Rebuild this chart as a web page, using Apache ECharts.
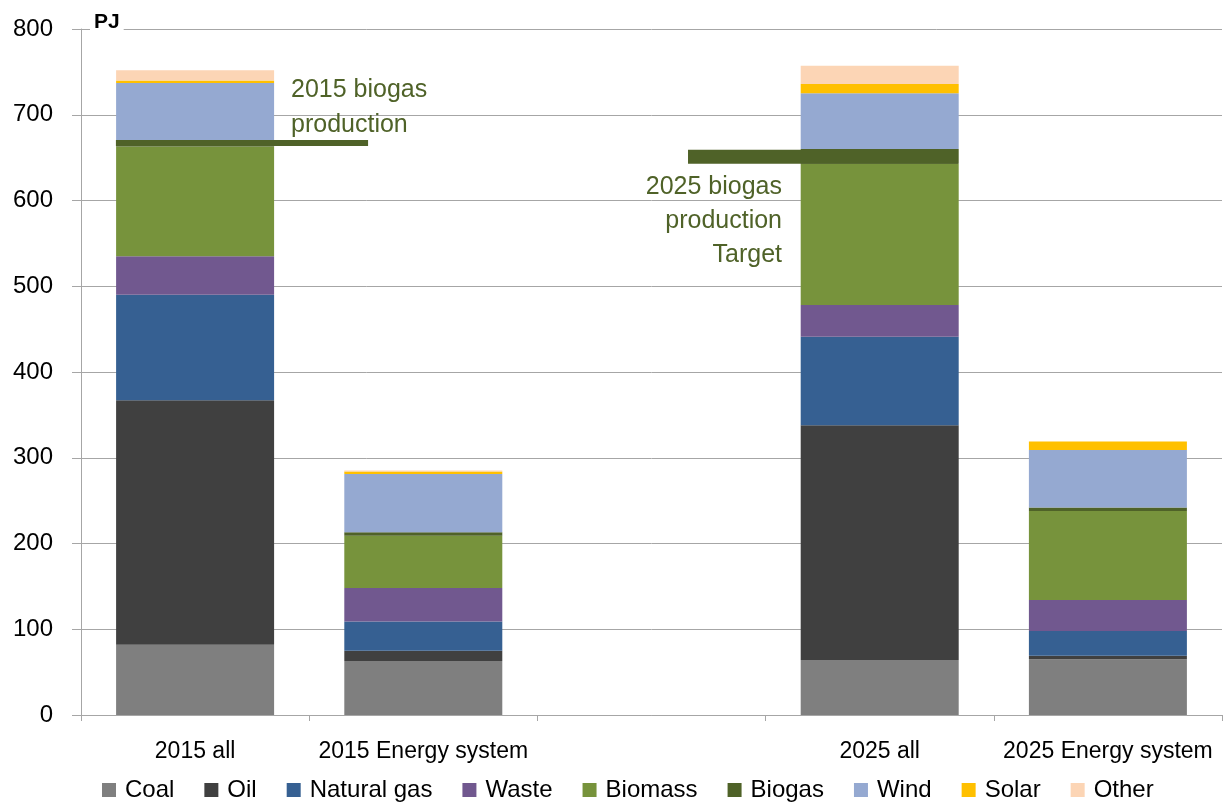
<!DOCTYPE html>
<html>
<head>
<meta charset="utf-8">
<script src="https://cdn.jsdelivr.net/npm/echarts@6/dist/echarts.min.js"></script>
<style>
  html, body { margin: 0; padding: 0; background: #fff; }
  #main { width: 1229px; height: 808px; }
</style>
</head>
<body>
<div id="main"></div>
<script>
// categories (third slot is an empty gap)
var categories = ['2015 all', '2015 Energy system', '', '2025 all', '2025 Energy system'];

// PJ per source
var coal       = [82, 63, '-', 64, 65];
var oil        = [285, 12, '-', 274, 4];
var naturalGas = [123, 34, '-', 103, 29];
var waste      = [45, 39, '-', 37, 36];
var biomass    = [128, 61, '-', 165, 104];
var biogas     = [5, 4, '-', 17, 4];
var wind       = [69, 68, '-', 65, 67];
var solar      = [3, 3, '-', 11, 10];
var other      = [12, 1, '-', 21, 0];

var yTicks = [0, 100, 200, 300, 400, 500, 600, 700, 800];

// biogas production markers: [start, end] in category units, level in PJ
var biogas2015Span = [0.153, 1.258];
var biogas2015Level = 667;
var biogas2025Span = [2.66, 3.843];
var biogas2025Level = 651;

var FONT = '"Liberation Sans", Arial, sans-serif';
var GREEN = '#4f6228';

var sources = [
  { name: 'Coal', data: coal, color: '#7f7f7f' },
  { name: 'Oil', data: oil, color: '#404040' },
  { name: 'Natural gas', data: naturalGas, color: '#366092' },
  { name: 'Waste', data: waste, color: '#71588f' },
  { name: 'Biomass', data: biomass, color: '#77933c' },
  { name: 'Biogas', data: biogas, color: GREEN },
  { name: 'Wind', data: wind, color: '#95a9d1' },
  { name: 'Solar', data: solar, color: '#ffc000' },
  { name: 'Other', data: other, color: '#fcd5b5' }
];

var series = sources.map(function (s) {
  return {
    name: s.name,
    type: 'bar',
    stack: 'total',
    barWidth: 158,
    data: s.data,
    itemStyle: { color: s.color },
    emphasis: { disabled: true }
  };
});

function markerLine(span, level, width) {
  return {
    type: 'line',
    xAxisIndex: 1,
    symbol: 'none',
    silent: true,
    z: 5,
    lineStyle: { color: GREEN, width: width, cap: 'butt' },
    data: [[span[0], level], [span[1], level]]
  };
}
series.push(markerLine(biogas2015Span, biogas2015Level, 6));
series.push(markerLine(biogas2025Span, biogas2025Level, 14));

var chart = echarts.init(document.getElementById('main'), null, { renderer: 'canvas' });

chart.setOption({
  animation: false,
  textStyle: { fontFamily: FONT },
  grid: { left: 81, right: 7, top: 29, bottom: 93 },
  legend: {
    data: sources.map(function (s) { return s.name; }),
    bottom: 1,
    left: 97,
    itemWidth: 14,
    itemHeight: 14,
    itemGap: 30,
    icon: 'rect',
    textStyle: { fontFamily: FONT, fontSize: 24, color: '#000', padding: [0, 0, 0, 4] }
  },
  xAxis: [
    {
      type: 'category',
      data: categories,
      axisLine: { lineStyle: { color: '#a6a6a6', width: 1 } },
      axisTick: { show: true, length: 6, lineStyle: { color: '#a6a6a6' } },
      axisLabel: { fontSize: 23, color: '#000', margin: 25, fontFamily: FONT, interval: 0 }
    },
    {
      type: 'value',
      min: 0,
      max: 5,
      show: false
    }
  ],
  yAxis: {
    type: 'value',
    min: yTicks[0],
    max: yTicks[yTicks.length - 1],
    interval: 100,
    axisLine: { show: true, lineStyle: { color: '#a6a6a6' } },
    axisTick: { show: true, length: 9, lineStyle: { color: '#a6a6a6' } },
    axisLabel: { fontSize: 24, color: '#000', margin: 28, fontFamily: FONT },
    splitLine: { lineStyle: { color: '#a6a6a6' } }
  },
  graphic: [
    {
      type: 'text',
      left: 90,
      top: 12,
      z: 10,
      style: {
        text: 'PJ',
        font: 'bold 21px ' + FONT,
        fill: '#000',
        backgroundColor: '#fff',
        padding: [0, 4, 0, 4]
      }
    },
    {
      type: 'text',
      left: 291,
      top: 73,
      z: 10,
      style: {
        text: '2015 biogas\nproduction',
        font: '25px ' + FONT,
        fill: GREEN,
        lineHeight: 35
      }
    },
    {
      type: 'text',
      x: 782,
      y: 170,
      z: 10,
      style: {
        text: '2025 biogas\nproduction\nTarget',
        font: '25px ' + FONT,
        fill: GREEN,
        lineHeight: 34,
        align: 'right',
        verticalAlign: 'top'
      }
    }
  ],
  series: series
});
</script>
</body>
</html>
